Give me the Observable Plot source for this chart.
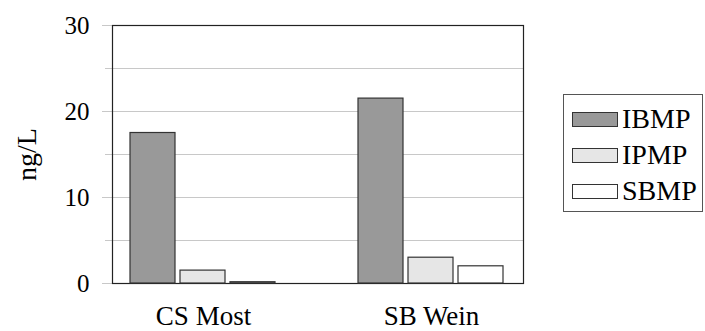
<!DOCTYPE html>
<html>
<head>
<meta charset="utf-8">
<script src="https://cdn.jsdelivr.net/npm/d3@7"></script>
<script src="https://cdn.jsdelivr.net/npm/@observablehq/plot@0.6"></script>
<style>
  html, body { margin: 0; padding: 0; background: #fff; }
  #wrap { position: relative; width: 705px; height: 331px; font-family: "Liberation Serif", serif; }
  #wrap svg { position: absolute; left: 0; top: 0; }
  #legend { position: absolute; left: 563px; top: 94px; width: 140px; height: 118px; border: 1px solid #555; box-sizing: border-box; background: #fff; }
  .item { position: absolute; left: 8px; height: 28px; display: flex; align-items: center; }
  .sw { width: 46px; height: 15px; box-sizing: border-box; border: 1px solid #333; margin-right: 4px; }
  .lab { font-size: 28px; line-height: 28px; color: #000; }
</style>
</head>
<body>
<div id="wrap"></div>
<script>
const groups = ["CS Most", "SB Wein"];
const series = ["IBMP", "IPMP", "SBMP"];
const csMost = [17.5, 1.5, 0.15];
const sbWein = [21.5, 3.0, 2.0];
const fills = ["#999999", "#e6e6e6", "#ffffff"];
const yMajor = [0, 10, 20, 30];
const yMinor = [5, 15, 25];
const yLabel = "ng/L";

const data = [];
[csMost, sbWein].forEach((vals, gi) => {
  vals.forEach((v, si) => data.push({group: groups[gi], series: series[si], value: v}));
});

const common = {
  width: 705, height: 331,
  marginLeft: 112, marginRight: 182, marginTop: 25, marginBottom: 48,
};

const back = Plot.plot({
  ...common,
  style: {fontFamily: "Liberation Serif", color: "#000", background: "#fff"},
  x: {axis: null},
  y: {domain: [0, 30], axis: null},
  marks: [
    Plot.gridY(yMinor, {stroke: "#c8c8c8", strokeOpacity: 1, strokeWidth: 1.2, insetLeft: -7}),
    Plot.gridY(yMajor, {stroke: "#c8c8c8", strokeOpacity: 1, strokeWidth: 1.2, insetLeft: -10}),
    Plot.axisY({ticks: yMajor, tickSize: 0, tickPadding: 23, fontSize: 25, label: null}),
    Plot.text([yLabel], {text: d => d, frameAnchor: "left", textAnchor: "middle", rotate: -90, dx: -85, fontSize: 28, fill: "#000"}),
    Plot.frame({stroke: "#222", strokeWidth: 1.2})
  ]
});

const front = Plot.plot({
  ...common,
  style: {fontFamily: "Liberation Serif", color: "#000", background: "none"},
  fx: {domain: groups, paddingInner: 0.2, paddingOuter: 0, label: null},
  x: {domain: series, paddingInner: 0.099, paddingOuter: 0.361, axis: null},
  y: {domain: [0, 30], axis: null},
  color: {domain: series, range: fills},
  marks: [
    Plot.barY(data, {fx: "group", x: "series", y: "value", fill: "series", stroke: "#333", strokeWidth: 1.2}),
    Plot.axisFx({anchor: "bottom", tickSize: 0, tickPadding: 22, fontSize: 27, label: null})
  ]
});

const wrap = document.getElementById("wrap");
wrap.appendChild(back);
wrap.appendChild(front);

const legend = document.createElement("div");
legend.id = "legend";
series.forEach((s, i) => {
  const item = document.createElement("div");
  item.className = "item";
  item.style.top = (10 + i * 36) + "px";
  const sw = document.createElement("div");
  sw.className = "sw";
  sw.style.background = fills[i];
  const lab = document.createElement("span");
  lab.className = "lab";
  lab.textContent = s;
  item.appendChild(sw);
  item.appendChild(lab);
  legend.appendChild(item);
});
wrap.appendChild(legend);
</script>
</body>
</html>
